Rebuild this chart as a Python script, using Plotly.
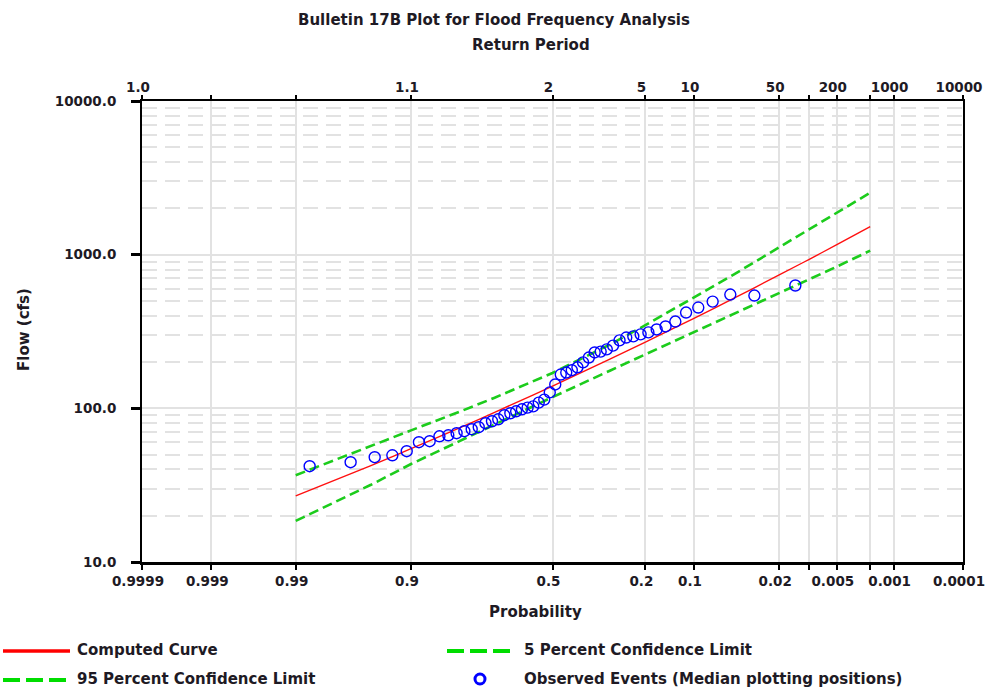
import plotly.graph_objects as go
from statistics import NormalDist

# ---------------- data ----------------
# exceedance probabilities at which curves were read
curve_prob = [0.99, 0.95, 0.9, 0.8, 0.7, 0.5, 0.3, 0.2, 0.1, 0.05, 0.02, 0.01, 0.005, 0.002]
computed_flow = [26.9, 42.4, 54.6, 74.6, 94.2, 139.6, 209.7, 269.8, 385.5, 521.2, 737.9, 933.3, 1161.4, 1520.5]
upper5_flow = [36.7, 56.5, 71.9, 95.1, 117.2, 169.8, 261.0, 347.5, 526.0, 744.7, 1116.9, 1462.2, 1883.6, 2529.3]
lower95_flow = [18.5, 31.8, 43.4, 61.4, 78.7, 118.3, 176.4, 224.4, 311.9, 409.3, 562.3, 691.8, 835.6, 1061.7]

# observed events (median plotting positions), ranked largest to smallest
obs_prob = [0.0139, 0.0337, 0.0536, 0.0734, 0.0933, 0.1131, 0.1329, 0.1528, 0.1726, 0.1925,
            0.2123, 0.2321, 0.2520, 0.2718, 0.2917, 0.3115, 0.3313, 0.3512, 0.3710, 0.3909,
            0.4107, 0.4306, 0.4504, 0.4702, 0.4901, 0.5099, 0.5298, 0.5496, 0.5694, 0.5893,
            0.6091, 0.6290, 0.6488, 0.6687, 0.6885, 0.7083, 0.7282, 0.7480, 0.7679, 0.7877,
            0.8075, 0.8274, 0.8472, 0.8671, 0.8869, 0.9067, 0.9266, 0.9464, 0.9663, 0.9861]
obs_flow = [630, 542, 550, 495, 453, 420, 367, 341, 326, 312,
            303, 294, 289, 277, 256, 242, 234, 231, 214, 199,
            185, 177, 171, 166, 143, 127, 114, 109, 103, 101,
            98.6, 95.7, 92.9, 90.2, 84.9, 82.4, 80.0, 75.4, 73.1, 71.0,
            68.9, 66.8, 65.8, 61.1, 60.2, 52.6, 49.5, 48.1, 44.6, 42.0]

grid_prob = [0.9999, 0.999, 0.99, 0.9, 0.5, 0.2, 0.1, 0.02, 0.01, 0.005, 0.002, 0.001, 0.0001]
bottom_labels = ["0.9999", "0.999", "0.99", "0.9", "0.5", "0.2", "0.1", "0.02", "", "0.005", "", "0.001", "0.0001"]
top_labels = ["1.0", "", "", "1.1", "2", "5", "10", "50", "", "200", "", "1000", "10000"]
y_major = [10, 100, 1000, 10000]
y_labels = ["10.0", "100.0", "1000.0", "10000.0"]
y_minor = [m * d for d in (10, 100, 1000) for m in range(2, 10)]

# ---------------- helpers ----------------
nd = NormalDist()
def zq(p):
    return nd.inv_cdf(1 - p)

W, H = 985, 694
L, R, T, B = 142, 963, 101, 562
def px(x):
    return (x - L) / (R - L)
def py(y):
    return (B - y) / (B - T)

TXT = "#1e1a24"
FAM = "DejaVu Sans, Verdana, sans-serif"
FONT = dict(family=FAM, size=15, color=TXT, weight="bold")
TICKFONT = dict(family=FAM, size=13.5, color=TXT, weight="bold")
GREEN = "#1ccc1c"

fig = go.Figure()
fig.add_trace(go.Scatter(x=[zq(p) for p in curve_prob], y=upper5_flow, mode="lines",
                         line=dict(color=GREEN, width=2.6, dash="10px,5px"), showlegend=False, hoverinfo="skip"))
fig.add_trace(go.Scatter(x=[zq(p) for p in curve_prob], y=lower95_flow, mode="lines",
                         line=dict(color=GREEN, width=2.6, dash="10px,5px"), showlegend=False, hoverinfo="skip"))
fig.add_trace(go.Scatter(x=[zq(p) for p in curve_prob], y=computed_flow, mode="lines",
                         line=dict(color="#ff1010", width=1.4, shape="spline"), showlegend=False))
fig.add_trace(go.Scatter(x=[zq(p) for p in obs_prob], y=obs_flow, mode="markers",
                         marker=dict(symbol="circle-open", size=11, color="#0000ff", line=dict(width=1.4)),
                         showlegend=False))
# invisible trace to bind the top axis
fig.add_trace(go.Scatter(x=[zq(p) for p in curve_prob], y=computed_flow, xaxis="x2", mode="lines",
                         line=dict(width=0), opacity=0, showlegend=False, hoverinfo="skip"))

zr = [zq(0.9999), zq(0.0001)]
fig.update_layout(
    width=W, height=H,
    margin=dict(l=L, r=W - R, t=T, b=H - B, autoexpand=False),
    paper_bgcolor="white", plot_bgcolor="white",
    showlegend=False,
    xaxis=dict(range=zr, tickmode="array", tickvals=[zq(p) for p in grid_prob], ticktext=bottom_labels,
               showgrid=True, gridcolor="#e2e2e2", gridwidth=2, zeroline=False,
               showline=True, linecolor="black", linewidth=3, ticks="outside", ticklen=5,
               tickwidth=2, tickcolor="black", tickfont=TICKFONT, ticklabelshift=-4,
               ticklabeloverflow="allow"),
    xaxis2=dict(range=zr, overlaying="x", side="top", tickmode="array",
                tickvals=[zq(p) for p in grid_prob], ticktext=top_labels, showgrid=False, zeroline=False,
                showline=True, linecolor="black", linewidth=2, ticks="outside", ticklen=4,
                tickwidth=2, tickcolor="black", tickfont=TICKFONT, ticklabelshift=-4,
                ticklabelstandoff=-2, ticklabeloverflow="allow"),
    yaxis=dict(type="log", range=[1, 4], tickmode="array", tickvals=y_major, ticktext=y_labels,
               showgrid=True, gridcolor="#e2e2e2", gridwidth=2, zeroline=False,
               showline=True, mirror=True, linecolor="black", linewidth=2,
               ticks="outside", ticklen=9, tickwidth=3, tickcolor="black", tickfont=TICKFONT,
               ticklabelstandoff=12,
               minor=dict(tickmode="array", tickvals=y_minor, showgrid=True, gridcolor="#e2e2e2",
                          gridwidth=2, griddash="15px,8px", ticks="")),
)

ann = []
ann.append(dict(text="Bulletin 17B Plot for Flood Frequency Analysis", x=px(494), y=py(20),
                xanchor="center", yanchor="middle", font=FONT))
ann.append(dict(text="Return Period", x=px(531), y=py(45), xanchor="center", yanchor="middle", font=FONT))
ann.append(dict(text="Probability", x=px(535), y=py(612), xanchor="center", yanchor="middle", font=FONT))
ann.append(dict(text="Flow (cfs)", x=px(24), y=py(330), xanchor="center", yanchor="middle",
                textangle=-90, font=FONT))
ann.append(dict(text="Computed Curve", x=px(75), y=py(650), xanchor="left", yanchor="middle", font=FONT))
ann.append(dict(text="95 Percent Confidence Limit", x=px(75), y=py(679), xanchor="left", yanchor="middle", font=FONT))
ann.append(dict(text="5 Percent Confidence Limit", x=px(522), y=py(650), xanchor="left", yanchor="middle", font=FONT))
ann.append(dict(text="Observed Events (Median plotting positions)", x=px(522), y=py(679),
                xanchor="left", yanchor="middle", font=FONT))
for a in ann:
    a.update(xref="paper", yref="paper", showarrow=False)
fig.update_layout(annotations=ann)

shapes = [
    dict(type="line", x0=px(3), x1=px(70), y0=py(651), y1=py(651), line=dict(color="#ff0000", width=3.5)),
    dict(type="line", x0=px(3), x1=px(70), y0=py(680), y1=py(680), line=dict(color="#00dd00", width=4, dash="17px,6px")),
    dict(type="line", x0=px(447), x1=px(514), y0=py(651), y1=py(651), line=dict(color="#00dd00", width=4, dash="17px,6px")),
    dict(type="circle", x0=px(475), x1=px(485), y0=py(674), y1=py(684), line=dict(color="#0000ff", width=3)),
]
for s in shapes:
    s.update(xref="paper", yref="paper")
fig.update_layout(shapes=shapes)

fig.write_html("out.html", config={"displayModeBar": False},
               post_script="document.body.style.margin='0';document.body.style.overflow='hidden';")
